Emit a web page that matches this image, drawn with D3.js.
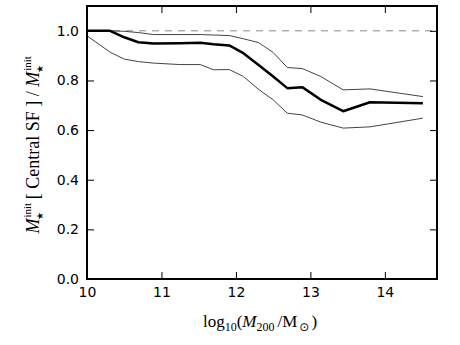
<!DOCTYPE html>
<html>
<head>
<meta charset="utf-8">
<script src="https://cdn.jsdelivr.net/npm/d3@7"></script>
<style>
  body { margin: 0; background: #fff; }
</style>
</head>
<body>
<div id="chart"></div>
<script>
// log10(M200/Msun) bin positions
const massBins = [10.0, 10.31, 10.5, 10.69, 10.89, 11.25, 11.52, 11.70, 11.91, 12.10, 12.30, 12.50, 12.69, 12.89, 13.14, 13.44, 13.80, 14.51];

// median fraction (thick line)
const median = [1.0, 1.0, 0.974, 0.954, 0.949, 0.950, 0.952, 0.946, 0.941, 0.910, 0.863, 0.816, 0.769, 0.773, 0.722, 0.676, 0.712, 0.708];
// upper percentile (thin)
const upper  = [1.0, 1.0, 0.998, 0.993, 0.985, 0.985, 0.985, 0.983, 0.981, 0.968, 0.953, 0.913, 0.852, 0.848, 0.816, 0.762, 0.766, 0.735];
// lower percentile (thin)
const lower  = [0.980, 0.914, 0.886, 0.876, 0.870, 0.864, 0.864, 0.843, 0.844, 0.816, 0.765, 0.722, 0.668, 0.661, 0.632, 0.608, 0.613, 0.648];

const xTicks = [10, 11, 12, 13, 14];
const yTicks = [0.0, 0.2, 0.4, 0.6, 0.8, 1.0];

// ---------------------------------------------------------------------------
// SVG setup
// ---------------------------------------------------------------------------
const W = 460, H = 345;
const margin = { top: 6, right: 23, bottom: 66, left: 87 };
const width = W - margin.left - margin.right;
const height = H - margin.top - margin.bottom;
const serif = '"Liberation Serif", "DejaVu Serif", serif';
const sans = '"DejaVu Sans", sans-serif';

const svg = d3.select("#chart")
  .append("svg")
  .attr("width", W)
  .attr("height", H);

const g = svg.append("g")
  .attr("transform", `translate(${margin.left}, ${margin.top})`);

const x = d3.scaleLinear().domain([10, 14.7]).range([0, width]);
const y = d3.scaleLinear().domain([0, 1.1]).range([height, 0]);

// reference line at unity
g.append("line")
  .attr("x1", 0).attr("x2", width)
  .attr("y1", y(1)).attr("y2", y(1))
  .attr("stroke", "#8a8a8a")
  .attr("stroke-width", 1)
  .attr("stroke-dasharray", "7,6");

const line = d3.line()
  .x(d => x(d[0]))
  .y(d => y(d[1]));

const zip = vals => massBins.map((m, i) => [m, vals[i]]);

g.append("path").datum(zip(upper))
  .attr("fill", "none").attr("stroke", "#444").attr("stroke-width", 1)
  .attr("d", line);
g.append("path").datum(zip(lower))
  .attr("fill", "none").attr("stroke", "#444").attr("stroke-width", 1)
  .attr("d", line);
g.append("path").datum(zip(median))
  .attr("fill", "none").attr("stroke", "#000").attr("stroke-width", 2.5)
  .attr("stroke-linejoin", "round")
  .attr("d", line);

// ---------------------------------------------------------------------------
// Axes (ticks pointing inward on all sides)
// ---------------------------------------------------------------------------
const tickLen = 7;
const styleAxis = sel => {
  sel.select(".domain").remove();
  sel.selectAll(".tick line").attr("stroke", "#000").attr("stroke-width", 1);
  sel.selectAll(".tick text").attr("fill", "#000")
    .style("font-family", sans).style("font-size", "14px");
};

g.append("g")
  .attr("transform", `translate(0, ${height})`)
  .call(d3.axisBottom(x).tickValues(xTicks).tickFormat(d3.format("d"))
    .tickSizeInner(-tickLen).tickSizeOuter(0).tickPadding(8))
  .call(styleAxis);

g.append("g")
  .call(d3.axisTop(x).tickValues(xTicks).tickFormat("")
    .tickSizeInner(-tickLen).tickSizeOuter(0))
  .call(styleAxis);

g.append("g")
  .call(d3.axisLeft(y).tickValues(yTicks).tickFormat(d3.format(".1f"))
    .tickSizeInner(-tickLen).tickSizeOuter(0).tickPadding(8))
  .call(styleAxis);

g.append("g")
  .attr("transform", `translate(${width}, 0)`)
  .call(d3.axisRight(y).tickValues(yTicks).tickFormat("")
    .tickSizeInner(-tickLen).tickSizeOuter(0))
  .call(styleAxis);

// frame
g.append("rect")
  .attr("width", width).attr("height", height)
  .attr("fill", "none").attr("stroke", "#000").attr("stroke-width", 2);

// ---------------------------------------------------------------------------
// Axis labels
// ---------------------------------------------------------------------------
const xl = svg.append("text")
  .attr("x", margin.left + width / 2 - 2)
  .attr("y", 327)
  .attr("text-anchor", "middle")
  .style("font-family", serif)
  .style("font-size", "17px");
xl.append("tspan").text("log");
xl.append("tspan").attr("dy", 4).style("font-size", "12px").text("10");
xl.append("tspan").attr("dy", -4).text("(");
xl.append("tspan").style("font-style", "italic").text("M");
xl.append("tspan").attr("dy", 4).style("font-size", "12px").text("200");
xl.append("tspan").attr("dy", -4).attr("dx", 3).text("/M");
xl.append("tspan").attr("dy", 4).attr("dx", 2).style("font-size", "12px")
  .style("font-family", sans).text("⊙");
xl.append("tspan").attr("dy", -4).attr("dx", 2).text(")");

const yl = svg.append("text")
  .attr("transform", `translate(39, ${margin.top + 137}) rotate(-90)`)
  .attr("text-anchor", "middle")
  .style("font-family", serif)
  .style("font-size", "18px");
// M with "init" superscript and a star subscript stacked beneath it
const starM = () => {
  yl.append("tspan").style("font-style", "italic").text("M");
  yl.append("tspan").attr("dy", -8).attr("dx", 1).style("font-size", "11px").text("init");
  yl.append("tspan").attr("dy", 12).attr("dx", -17).style("font-size", "9px")
    .style("font-family", sans).text("★");
  yl.append("tspan").attr("dy", -4).attr("dx", 9).text("\u2009");
};
starM();
yl.append("tspan").text("[ Central SF ] / ");
starM();
</script>
</body>
</html>
